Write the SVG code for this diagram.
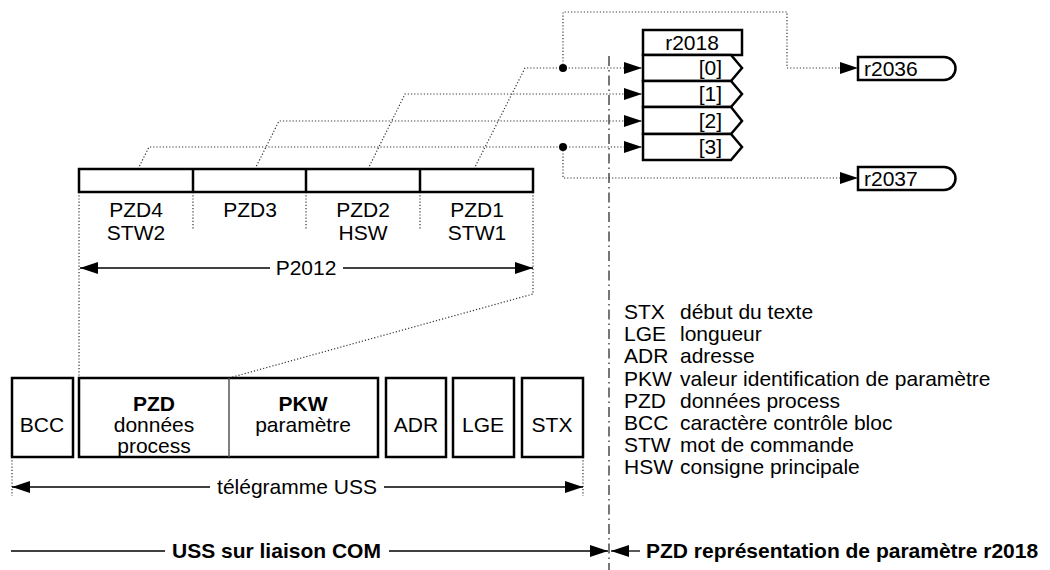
<svg xmlns="http://www.w3.org/2000/svg" width="1050" height="570" viewBox="0 0 1050 570">
<defs>
<marker id="ah" markerUnits="userSpaceOnUse" markerWidth="18" markerHeight="12" refX="18" refY="6" orient="auto"><path d="M0,0 L18,6 L0,12 z" fill="#000"/></marker>
<style>
text{font-family:"Liberation Sans",Arial,sans-serif;font-size:21px;fill:#000}
.b{font-weight:bold}
.m{text-anchor:middle}
.e{text-anchor:end}
.box{fill:#fff;stroke:#000;stroke-width:2.5}
.dot{fill:none;stroke:#333;stroke-width:1.2;stroke-dasharray:1.2,2}
.sol{fill:none;stroke:#000;stroke-width:1.3}
.dd{fill:none;stroke:#555;stroke-width:1.6;stroke-dasharray:10,4,1.5,4}
</style>
</defs>
<g id="connectors">
<line class="dd" x1="609" y1="56" x2="609" y2="570"/>
<path class="dot" d="M138,169 L149,147 L624,147"/>
<path class="dot" d="M255,169 L279,121 L624,121"/>
<path class="dot" d="M368,169 L405,94 L624,94"/>
<path class="dot" d="M474,169 L525,68 L624,68"/>
<line class="dot" x1="624" y1="68" x2="642" y2="68" marker-end="url(#ah)"/>
<line class="dot" x1="624" y1="94" x2="642" y2="94" marker-end="url(#ah)"/>
<line class="dot" x1="624" y1="121" x2="642" y2="121" marker-end="url(#ah)"/>
<line class="dot" x1="624" y1="147" x2="642" y2="147" marker-end="url(#ah)"/>
<path class="dot" d="M563,68 L563,12 L787,12 L787,68 L858,68" marker-end="url(#ah)"/>
<path class="dot" d="M563,147 L563,178 L858,178" marker-end="url(#ah)"/>
<circle cx="563" cy="68" r="4" fill="#000"/>
<circle cx="563" cy="147" r="4" fill="#000"/>
<line class="dot" x1="79" y1="192" x2="79" y2="378"/>
<line class="dot" x1="193" y1="192" x2="193" y2="230"/>
<line class="dot" x1="306" y1="192" x2="306" y2="230"/>
<line class="dot" x1="420" y1="192" x2="420" y2="230"/>
<path class="dot" d="M533,192 L533,294 L229,378"/>
<line class="dot" x1="12" y1="457" x2="12" y2="496"/>
<line class="dot" x1="583" y1="457" x2="583" y2="496"/>
<line class="sol" x1="270" y1="268" x2="80" y2="268" marker-end="url(#ah)"/>
<line class="sol" x1="343" y1="268" x2="533" y2="268" marker-end="url(#ah)"/>
<line class="sol" x1="210" y1="487" x2="12" y2="487" marker-end="url(#ah)"/>
<line class="sol" x1="384" y1="487" x2="583" y2="487" marker-end="url(#ah)"/>
<line class="sol" x1="11" y1="551" x2="165" y2="551"/>
<line class="sol" x1="389" y1="551" x2="608" y2="551" marker-end="url(#ah)"/>
<line class="sol" x1="640" y1="551" x2="611" y2="551" marker-end="url(#ah)"/>
</g>
<g id="pzd-bar">
<rect class="box" x="79" y="169" width="454" height="23"/>
<line x1="193" y1="169" x2="193" y2="192" stroke="#000" stroke-width="2.5"/>
<line x1="306" y1="169" x2="306" y2="192" stroke="#000" stroke-width="2.5"/>
<line x1="420" y1="169" x2="420" y2="192" stroke="#000" stroke-width="2.5"/>
<text class="m" x="136" y="217">PZD4</text>
<text class="m" x="136" y="240">STW2</text>
<text class="m" x="250" y="217">PZD3</text>
<text class="m" x="363" y="217">PZD2</text>
<text class="m" x="363" y="240">HSW</text>
<text class="m" x="477" y="217">PZD1</text>
<text class="m" x="477" y="240">STW1</text>
<text class="m" x="306" y="275">P2012</text>
</g>
<g id="r2018">
<rect class="box" x="643" y="30" width="99" height="25"/>
<text class="m" x="692" y="50">r2018</text>
<path class="box" d="M643,55 H731 L742,68 L731,81 H643 z"/>
<path class="box" d="M643,81 H731 L742,94 L731,107 H643 z"/>
<path class="box" d="M643,107 H731 L742,121 L731,134 H643 z"/>
<path class="box" d="M643,134 H731 L742,147 L731,160 H643 z"/>
<text class="e" x="722" y="75">[0]</text>
<text class="e" x="722" y="101">[1]</text>
<text class="e" x="722" y="128">[2]</text>
<text class="e" x="722" y="154">[3]</text>
</g>
<g id="r2036">
<path class="box" stroke-width="2" d="M858,57 H944 A11.5,11.5 0 0 1 944,80 H858 z"/>
<text x="864" y="76">r2036</text>
</g>
<g id="r2037">
<path class="box" stroke-width="2" d="M858,167 H944 A11.5,11.5 0 0 1 944,190 H858 z"/>
<text x="864" y="186">r2037</text>
</g>
<g id="telegram">
<rect class="box" x="12" y="378" width="61" height="79"/>
<text class="m" x="42" y="432">BCC</text>
<rect class="box" x="79" y="378" width="299" height="79"/>
<line x1="229" y1="378" x2="229" y2="457" stroke="#555" stroke-width="1.5"/>
<text class="m b" x="154" y="411">PZD</text>
<text class="m" x="154" y="432">données</text>
<text class="m" x="154" y="453">process</text>
<text class="m b" x="303" y="411">PKW</text>
<text class="m" x="303" y="432">paramètre</text>
<rect class="box" x="386" y="378" width="60" height="79"/>
<text class="m" x="416" y="432">ADR</text>
<rect class="box" x="453" y="378" width="61" height="79"/>
<text class="m" x="483" y="432">LGE</text>
<rect class="box" x="522" y="378" width="61" height="79"/>
<text class="m" x="552" y="432">STX</text>
<text class="m" x="297" y="494">télégramme USS</text>
</g>
<g id="legend">
<text x="624" y="319">STX</text><text x="680" y="319">début du texte</text>
<text x="624" y="341">LGE</text><text x="680" y="341">longueur</text>
<text x="624" y="363">ADR</text><text x="680" y="363">adresse</text>
<text x="624" y="386">PKW</text><text x="680" y="386">valeur identification de paramètre</text>
<text x="624" y="408">PZD</text><text x="680" y="408">données process</text>
<text x="624" y="430">BCC</text><text x="680" y="430">caractère contrôle bloc</text>
<text x="624" y="452">STW</text><text x="680" y="452">mot de commande</text>
<text x="624" y="474">HSW</text><text x="680" y="474">consigne principale</text>
</g>
<g id="footer">
<text class="b" x="172" y="558">USS sur liaison COM</text>
<text class="b" x="646" y="558">PZD représentation de paramètre r2018</text>
</g>
</svg>
